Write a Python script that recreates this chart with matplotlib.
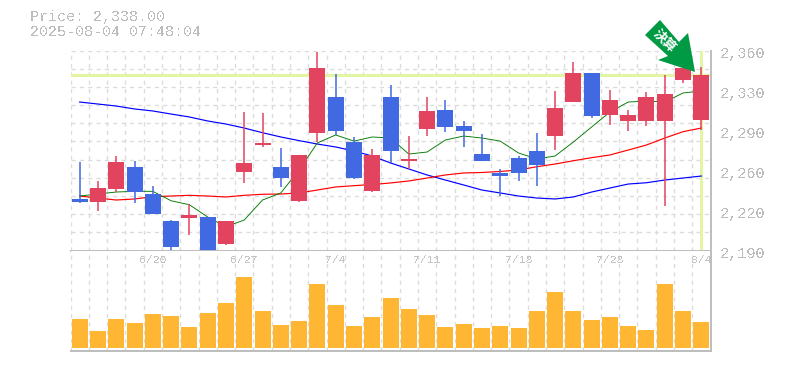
import matplotlib
matplotlib.use("Agg")
import matplotlib.pyplot as plt
from matplotlib.patches import Polygon

opens = [2233.8,2231.2,2242.3,2261,2238,2215,2217.6,2218.5,2195.5,2256.7,2279.7,2261,2232,2289.9,2320.5,2282.2,2240.6,2320.5,2266,2293.3,2309.4,2295.8,2272,2255.9,2268.6,2274.6,2287.3,2316.2,2340.9,2305.2,2300.1,2300.1,2300.1,2334.9,2300.9]
closes = [2231.2,2243.1,2265.2,2239.7,2221,2193,2220.2,2190,2215,2264.4,2281.4,2251.6,2271.2,2345.1,2291.6,2251.6,2271.2,2274.6,2267.8,2308.6,2295,2291.6,2266,2253.3,2255.9,2262.7,2311.1,2340.9,2304.3,2317.9,2305.2,2320.5,2323,2345,2339]
highs = [2265.2,2249.1,2270.3,2266,2244.8,2216,2229.5,2218.5,2215,2307.7,2306.9,2277.1,2271.2,2358.7,2340,2286.5,2276.3,2330.7,2287.3,2320.5,2317.9,2300,2289,2259.3,2270.3,2289.9,2325.6,2350.2,2340.9,2326.4,2309.4,2324.7,2339.2,2350,2346]
lows = [2230.6,2223.6,2239.7,2230.4,2221,2190,2203.2,2190,2194.7,2247.4,2278,2244,2231.2,2282.2,2288.2,2250.8,2239.7,2264.4,2259.3,2287.3,2290.7,2278,2266,2236.3,2249.1,2244.8,2275.4,2316.2,2302.6,2296.7,2291.6,2295.8,2227.8,2332.4,2292.4]
ma_short = [2236.3,2238,2239.7,2240.3,2240.3,2232.3,2228.9,2218.5,2210.2,2215.9,2232.9,2238.9,2258.4,2281.4,2288.2,2283,2286.5,2285.6,2272,2273.7,2283.9,2287.3,2285.6,2283,2272.9,2267.8,2270.3,2282.2,2295,2307.7,2316.2,2317,2316.2,2323.9,2325.6]
ma_mid = [2236.3,2234.6,2232.9,2233.8,2235.7,2236.3,2236.9,2236.3,2235.5,2236.9,2237.8,2238,2238.9,2241.4,2244,2245.1,2246.1,2247.4,2249.1,2251.6,2254.2,2255.9,2256.3,2257.2,2258.4,2261.2,2263.5,2266.3,2268.9,2271.2,2275.4,2279.7,2285.6,2291,2294.1]
ma_long = [2316.2,2314.5,2312.8,2310.3,2308.6,2306,2303.5,2300.1,2297.5,2294.1,2290.1,2286.5,2283.4,2280.5,2278,2274.6,2270.3,2264.4,2259.3,2254.2,2249.9,2245.7,2241.4,2238.9,2236.3,2234.6,2233.8,2235.5,2239.7,2243.1,2246.5,2247.6,2249.9,2251.6,2253.3]
volume = [29,17,29,25,34,32,21,35,45,71,37,23,27,64,43,22,31,50,39,33,21,24,20,22,20,37,56,37,28,31,22,18,64,37,26]
date_idx = [4,9,14,19,24,29,34]
date_labels = ["6/20","6/27","7/4","7/11","7/18","7/28","8/4"]
price_ticks = [2190,2224,2258,2292,2326,2360]
price_labels = ["2,190","2,220","2,260","2,290","2,330","2,360"]
last_line = 2339
title_lines = ["Price: 2,338.00","2025-08-04 07:48:04"]
badge_text = "決算"

RED, BLUE = "#E2445F", "#4169E1"
GRID, AXIS, TXT = "#dcdcdc", "#bdbdbd", "#bdbdbd"
MONO = ["Liberation Mono","DejaVu Sans Mono"]
W, H = 785, 370
fig = plt.figure(figsize=(W/100, H/100), dpi=100, facecolor="white")
L, R, T, M, B = 70.5, 710.5, 50.5, 250.5, 350.5
ax = fig.add_axes([L/W, 1-M/H, (R-L)/W, (M-T)/H])
av = fig.add_axes([L/W, 1-B/H, (R-L)/W, (B-M)/H])
n = len(opens)
xs = list(range(n))
for a in (ax, av):
    a.set_xlim(-0.5, n-0.5)
    a.set_xticks([])
    a.set_yticks([])
    for s in a.spines.values():
        s.set_visible(False)
    for k in range(n):
        a.axvline(k-0.5, color=GRID, lw=1, dashes=(3,3), zorder=0.5)
    a.plot([1,1],[0,1],transform=a.transAxes,color=AXIS,lw=1.4,zorder=5,clip_on=False)
    a.plot([0,1],[0,0],transform=a.transAxes,color=AXIS,lw=1.4,zorder=5,clip_on=False)
ax.set_ylim(2190, 2360)
av.set_ylim(-2.3, 97.7)
for k in range(11):
    ax.axhline(2360-170*k/11, color=GRID, lw=1, dashes=(3,3), zorder=0.5)

ax.axhline(last_line, color="#E3F5A3", lw=2.2, zorder=1)
ax.axvline(xs[-1], color="#E3F5A3", lw=2.2, zorder=1)
ax.plot(xs, ma_long, color="#0000FF", lw=0.85, zorder=2)
ax.plot(xs, ma_mid, color="#FF0000", lw=0.85, zorder=2)
ax.plot(xs, ma_short, color="#007800", lw=0.65, zorder=2)
for x,o,c,h,l in zip(xs,opens,closes,highs,lows):
    col = RED if c >= o else BLUE
    ax.vlines(x, l, h, color=col, lw=1.1, zorder=3)
    ax.bar(x, abs(c-o), bottom=min(o,c), width=0.875, color=col, linewidth=0, zorder=3)
av.bar(xs, volume, width=0.875, color="#FFB733", linewidth=0, zorder=3)

for i,lab in zip(date_idx,date_labels):
    av.text(i, 88, lab, ha="center", va="center", fontsize=8.2, color="#c4c4c4", family=MONO, zorder=4, antialiased=False)
for v,lab in zip(price_ticks,price_labels):
    ax.annotate(lab, (1,(v-2190)/170), xycoords="axes fraction", xytext=(7,-2.2), textcoords="offset points",
                ha="left", va="center", fontsize=11, color=TXT, family=MONO, antialiased=False)
fig.text(30/W, 1-17.5/H, title_lines[0], fontsize=10.8, color=TXT, family=MONO, va="center", antialiased=False)
fig.text(30/W, 1-32.5/H, title_lines[1], fontsize=10.8, color=TXT, family=MONO, va="center", antialiased=False)

arrow_px = [(660,20),(645,35),(668,56),(658,60),(695,72),(688,33),(679,42)]
fig.add_artist(Polygon([(x/W,1-y/H) for x,y in arrow_px], closed=True, transform=fig.transFigure,
                       facecolor="#009944", edgecolor="none", zorder=10))
fig.text(665/W, 1-41/H, badge_text, rotation=-45, rotation_mode="anchor", ha="center", va="center",
         fontsize=9.5, fontweight="bold", color="white", family=["Noto Sans CJK JP","DejaVu Sans"], zorder=11)
fig.savefig("out.png", dpi=100)
